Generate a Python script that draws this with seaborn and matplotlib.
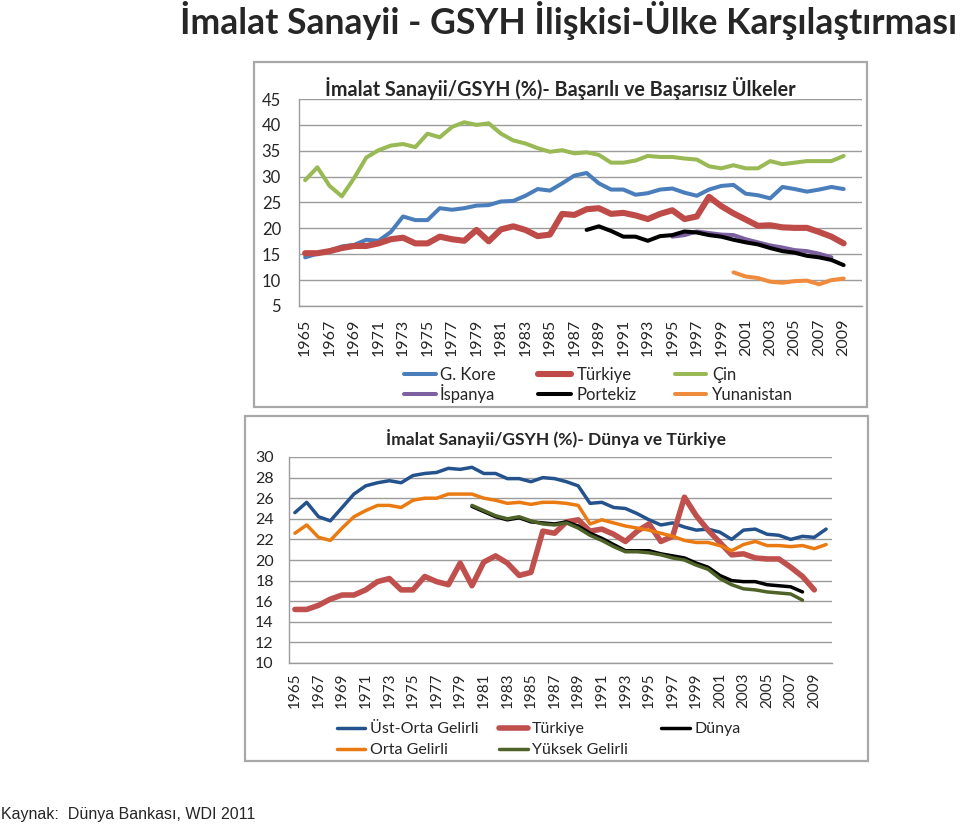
import numpy as np
import pandas as pd
import matplotlib
matplotlib.use("Agg")
import matplotlib.pyplot as plt
import seaborn as sns
from matplotlib.lines import Line2D
from matplotlib.patches import Rectangle

# ---------------- data: top chart (1965-2009) ----------------
years_top = list(range(1965, 2010))
kore = [14.4, 15.1, 15.7, 16.5, 16.8, 17.8, 17.6, 19.3, 22.3, 21.6,
        21.6, 23.9, 23.6, 23.9, 24.4, 24.5, 25.2, 25.3, 26.3, 27.6,
        27.3, 28.7, 30.2, 30.7, 28.7, 27.5, 27.5, 26.5, 26.8, 27.5,
        27.7, 26.9, 26.3, 27.5, 28.2, 28.4, 26.7, 26.4, 25.8, 28.0,
        27.6, 27.1, 27.5, 28.0, 27.6]
turkiye = [15.2, 15.2, 15.6, 16.2, 16.6, 16.6, 17.1, 17.9, 18.2, 17.1,
           17.1, 18.4, 17.9, 17.6, 19.7, 17.5, 19.8, 20.4, 19.7, 18.5,
           18.8, 22.8, 22.6, 23.7, 23.9, 22.8, 23.0, 22.5, 21.8, 22.8,
           23.5, 21.8, 22.3, 26.1, 24.3, 22.9, 21.7, 20.5, 20.6, 20.2,
           20.1, 20.1, 19.3, 18.4, 17.1]
cin = [29.3, 31.8, 28.2, 26.2, 29.7, 33.7, 35.1, 36.0, 36.3, 35.7,
       38.3, 37.6, 39.6, 40.5, 40.0, 40.3, 38.3, 37.0, 36.4, 35.5,
       34.8, 35.1, 34.5, 34.7, 34.2, 32.7, 32.7, 33.1, 34.0, 33.8,
       33.8, 33.5, 33.3, 32.0, 31.6, 32.2, 31.6, 31.6, 33.0, 32.4,
       32.7, 33.0, 33.0, 33.0, 34.0]
years_ispanya = list(range(1995, 2009))
ispanya = [18.4, 18.7, 19.4, 19.1, 18.8, 18.7, 17.9, 17.3, 16.7, 16.3,
           15.8, 15.6, 15.1, 14.4]
years_portekiz = list(range(1988, 2010))
portekiz = [19.7, 20.4, 19.5, 18.4, 18.4, 17.6, 18.5, 18.7, 19.4, 19.2,
            18.7, 18.4, 17.8, 17.3, 16.9, 16.2, 15.6, 15.3, 14.7, 14.4,
            13.9, 12.9]
years_yunanistan = list(range(2000, 2010))
yunanistan = [11.5, 10.7, 10.4, 9.7, 9.5, 9.8, 9.9, 9.2, 10.0, 10.3]

# ---------------- data: bottom chart (1965-2010) ----------------
years_bot = list(range(1965, 2011))
ust_orta = [24.6, 25.6, 24.2, 23.8, 25.1, 26.4, 27.2, 27.5, 27.7, 27.5,
            28.2, 28.4, 28.5, 28.9, 28.8, 29.0, 28.4, 28.4, 27.9, 27.9,
            27.6, 28.0, 27.9, 27.6, 27.2, 25.5, 25.6, 25.1, 25.0, 24.5,
            23.9, 23.4, 23.6, 23.2, 22.9, 23.0, 22.7, 22.0, 22.9, 23.0,
            22.5, 22.4, 22.0, 22.3, 22.2, 23.0]
orta = [22.6, 23.4, 22.2, 21.9, 23.1, 24.2, 24.8, 25.3, 25.3, 25.1,
        25.8, 26.0, 26.0, 26.4, 26.4, 26.4, 26.0, 25.8, 25.5, 25.6,
        25.4, 25.6, 25.6, 25.5, 25.3, 23.5, 23.9, 23.6, 23.3, 23.1,
        22.9, 22.6, 22.3, 21.9, 21.7, 21.7, 21.4, 20.9, 21.5, 21.8,
        21.4, 21.4, 21.3, 21.4, 21.1, 21.5]
years_dunya = list(range(1980, 2009))
dunya = [25.2, 24.7, 24.2, 23.9, 24.1, 23.7, 23.6, 23.5, 23.7, 23.3,
         22.6, 22.1, 21.5, 20.9, 20.9, 20.9, 20.6, 20.4, 20.2, 19.7,
         19.3, 18.5, 18.0, 17.9, 17.9, 17.6, 17.5, 17.4, 16.9]
yuksek = [25.3, 24.8, 24.3, 24.0, 24.2, 23.8, 23.5, 23.4, 23.6, 23.1,
          22.4, 21.9, 21.3, 20.8, 20.8, 20.7, 20.5, 20.2, 20.0, 19.5,
          19.1, 18.2, 17.6, 17.2, 17.1, 16.9, 16.8, 16.7, 16.1]

xtick_years = list(range(1965, 2010, 2))

main_title = "İmalat Sanayii - GSYH İlişkisi-Ülke Karşılaştırması"
title_top = "İmalat Sanayii/GSYH (%)- Başarılı ve Başarısız Ülkeler"
title_bot = "İmalat Sanayii/GSYH (%)- Dünya ve Türkiye"
source = "Kaynak:  Dünya Bankası, WDI 2011"

# ---------------- style ----------------
sns.set_style("white")
plt.rcParams["font.family"] = ["Lato", "DejaVu Sans"]
plt.rcParams["lines.solid_capstyle"] = "round"
plt.rcParams["lines.solid_joinstyle"] = "round"

W, H = 960, 826
fig = plt.figure(figsize=(W / 100, H / 100), dpi=100)


def fx(px):
    return px / W


def fy(py):
    return 1 - py / H


GRID = "#9C9C9C"


def style_axes(ax, ymin, ymax, ystep, xpad, ypad, xsize, ysize):
    ax.set_xlim(1964.5, 2010.5)
    ax.set_ylim(ymin, ymax)
    ax.set_yticks(np.arange(ymin, ymax + 0.1, ystep))
    ax.set_xticks(xtick_years)
    ax.set_xticklabels([str(y) for y in xtick_years], rotation=90)
    ax.tick_params(axis="x", length=0, pad=xpad, labelsize=xsize)
    ax.tick_params(axis="y", length=0, pad=ypad, labelsize=ysize)
    ax.yaxis.grid(True, color=GRID, lw=1.0)
    ax.xaxis.grid(False)
    ax.set_axisbelow(True)
    for s in ["top", "right"]:
        ax.spines[s].set_visible(False)
    for s in ["left", "bottom"]:
        ax.spines[s].set_color(GRID)
        ax.spines[s].set_linewidth(1.0)
    ax.set_xlabel("")
    ax.set_ylabel("")
    ax.set_facecolor("none")


# frames
fig.patches.append(Rectangle((fx(254), fy(407)), fx(867) - fx(254), fy(62) - fy(407),
                             transform=fig.transFigure, fill=False,
                             edgecolor="#A8A8A8", lw=1.6, zorder=0))
fig.patches.append(Rectangle((fx(245), fy(761)), fx(868) - fx(245), fy(416) - fy(761),
                             transform=fig.transFigure, fill=False,
                             edgecolor="#A8A8A8", lw=1.6, zorder=0))

# ---------------- top chart ----------------
ax1 = fig.add_axes([fx(299), fy(306), fx(862) - fx(299), fy(99) - fy(306)])
top_series = [
    ("G. Kore", years_top, kore, "#4A7EBB", 2.9),
    ("Türkiye", years_top, turkiye, "#BE4B48", 4.4),
    ("Çin", years_top, cin, "#98B954", 2.9),
    ("İspanya", years_ispanya, ispanya, "#7D60A0", 2.9),
    ("Portekiz", years_portekiz, portekiz, "#000000", 2.9),
    ("Yunanistan", years_yunanistan, yunanistan, "#F08A3C", 2.9),
]
for name, xs, ys, c, lw in top_series:
    sns.lineplot(x=xs, y=ys, ax=ax1, color=c, linewidth=lw, legend=False)
style_axes(ax1, 5, 45, 5, xpad=9, ypad=13, xsize=11.5, ysize=12)
fig.text(fx(560), fy(88), title_top, ha="center", va="center",
         fontsize=14.2, fontweight="bold")

# ---------------- bottom chart ----------------
ax2 = fig.add_axes([fx(289), fy(663), fx(832) - fx(289), fy(457) - fy(663)])
bot_series = [
    ("Üst-Orta Gelirli", years_bot, ust_orta, "#24528C", 2.5),
    ("Türkiye", years_top, turkiye, "#C0504D", 4.0),
    ("Dünya", years_dunya, dunya, "#000000", 2.5),
    ("Orta Gelirli", years_bot, orta, "#EA7A12", 2.5),
    ("Yüksek Gelirli", years_dunya, yuksek, "#4F6228", 2.5),
]
for name, xs, ys, c, lw in bot_series:
    sns.lineplot(x=xs, y=ys, ax=ax2, color=c, linewidth=lw, legend=False)
style_axes(ax2, 10, 30, 2, xpad=7, ypad=11, xsize=11, ysize=11.5)
fig.text(fx(556), fy(438), title_bot, ha="center", va="center",
         fontsize=12.6, fontweight="bold")


# ---------------- legends (drawn like Excel: equal columns) ----------
def legend_entry(entry, x0, x1, xt, yc, fs, lw_scale=1.0):
    label, _, _, color, lw = entry
    fig.add_artist(Line2D([fx(x0), fx(x1)], [fy(yc), fy(yc)],
                          transform=fig.transFigure, color=color,
                          lw=lw * lw_scale, solid_capstyle="round"))
    cap = fs * 100 / 72 * 0.36
    fig.text(fx(xt), fy(yc + cap), label, ha="left", va="baseline",
             fontsize=fs)


t = top_series
top_cols = [(404, 436, 440), (538, 571, 577), (675, 706, 712)]
top_rows = [374, 394]
top_layout = [[t[0], t[1], t[2]], [t[3], t[4], t[5]]]
for r, row in enumerate(top_layout):
    for c, entry in enumerate(row):
        x0, x1, xt = top_cols[c]
        legend_entry(entry, x0, x1, xt, top_rows[r], 12)

b = bot_series
bot_cols = [(337, 365, 370), (499, 528, 532), (661, 690, 695)]
bot_rows = [727.5, 748.5]
bot_layout = [[b[0], b[1], b[2]], [b[3], b[4]]]
for r, row in enumerate(bot_layout):
    for c, entry in enumerate(row):
        x0, x1, xt = bot_cols[c]
        legend_entry(entry, x0, x1, xt, bot_rows[r], 11.5)

# ---------------- main title & source ----------------
fig.text(fx(569), fy(20), main_title, ha="center", va="center",
         fontsize=25.6, fontweight="bold")
fig.text(fx(1), fy(815), source, ha="left", va="center",
         fontsize=11.5, family=["Liberation Sans", "DejaVu Sans"])

fig.savefig("out.png", dpi=100)
